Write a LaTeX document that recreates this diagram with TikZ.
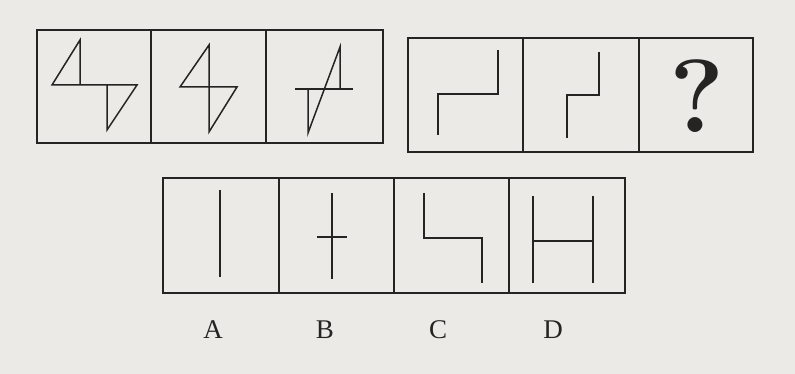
\documentclass[tikz,border=0pt]{standalone}
\usepackage{fontspec}
\usepackage{xcolor}
\usepackage{tikz}
\newfontfamily\lblfont{Liberation Serif}
\definecolor{cpaper}{RGB}{236,234,230}
\definecolor{cink}  {RGB}{38,36,34}
\tikzset{
  frame/.style={draw=cink, line width=1.7pt},
  fig/.style={draw=cink, line width=1.5pt, line join=miter},
  optlbl/.style={font=\lblfont\fontsize{27}{27}\selectfont, text=cink, inner sep=0pt},
}

\begin{document}
\begin{tikzpicture}[x=1pt, y=-1pt]
  % ── Paper ──────────────────────────────────────────────────────────────────
  \fill[cpaper] (0,0) rectangle (795,374);
  \useasboundingbox (0,0) rectangle (795,374);

  % ── Frames ─────────────────────────────────────────────────────────────────
  \draw[frame] (37,30) rectangle (383,143);
  \draw[frame] (151,30) -- (151,143) (266,30) -- (266,143);
  \draw[frame] (408,38) rectangle (753,152);
  \draw[frame] (523,38) -- (523,152) (639,38) -- (639,152);
  \draw[frame] (163,178) rectangle (625,293);
  \draw[frame] (279,178) -- (279,293) (394,178) -- (394,293) (509,178) -- (509,293);

  % ── First row ──────────────────────────────────────────────────────────────
  \draw[fig] (80,85) -- (80,40) -- (52,85) -- (137,85) -- (107,130) -- (107,85);
  \draw[fig] (209,87) -- (180,87) -- (209,45) -- (209,132) -- (237,87) -- (209,87);
  \draw[fig] (295,89) -- (353,89);
  \draw[fig] (340,89) -- (340,47) -- (308,133) -- (308,89);

  % ── Second row ─────────────────────────────────────────────────────────────
  \draw[fig] (438,135) -- (438,94) -- (498,94) -- (498,50);
  \draw[fig] (567,138) -- (567,95) -- (599,95) -- (599,52);
  \node[font=\bfseries\fontsize{104}{104}\selectfont, text=cink, inner sep=0pt]
    (qmark) at (697,96) {?};

  % ── Options ────────────────────────────────────────────────────────────────
  \draw[fig] (220,190) -- (220,277);
  \draw[fig] (332,193) -- (332,279) (317,237) -- (347,237);
  \draw[fig] (424,193) -- (424,238) -- (482,238) -- (482,283);
  \draw[fig] (533,196) -- (533,283) (593,196) -- (593,283) (533,241) -- (593,241);

  \node[optlbl] (optA) at (213,330) {A};
  \node[optlbl] (optB) at (325,330) {B};
  \node[optlbl] (optC) at (438,330) {C};
  \node[optlbl] (optD) at (553,330) {D};
\end{tikzpicture}
\end{document}
